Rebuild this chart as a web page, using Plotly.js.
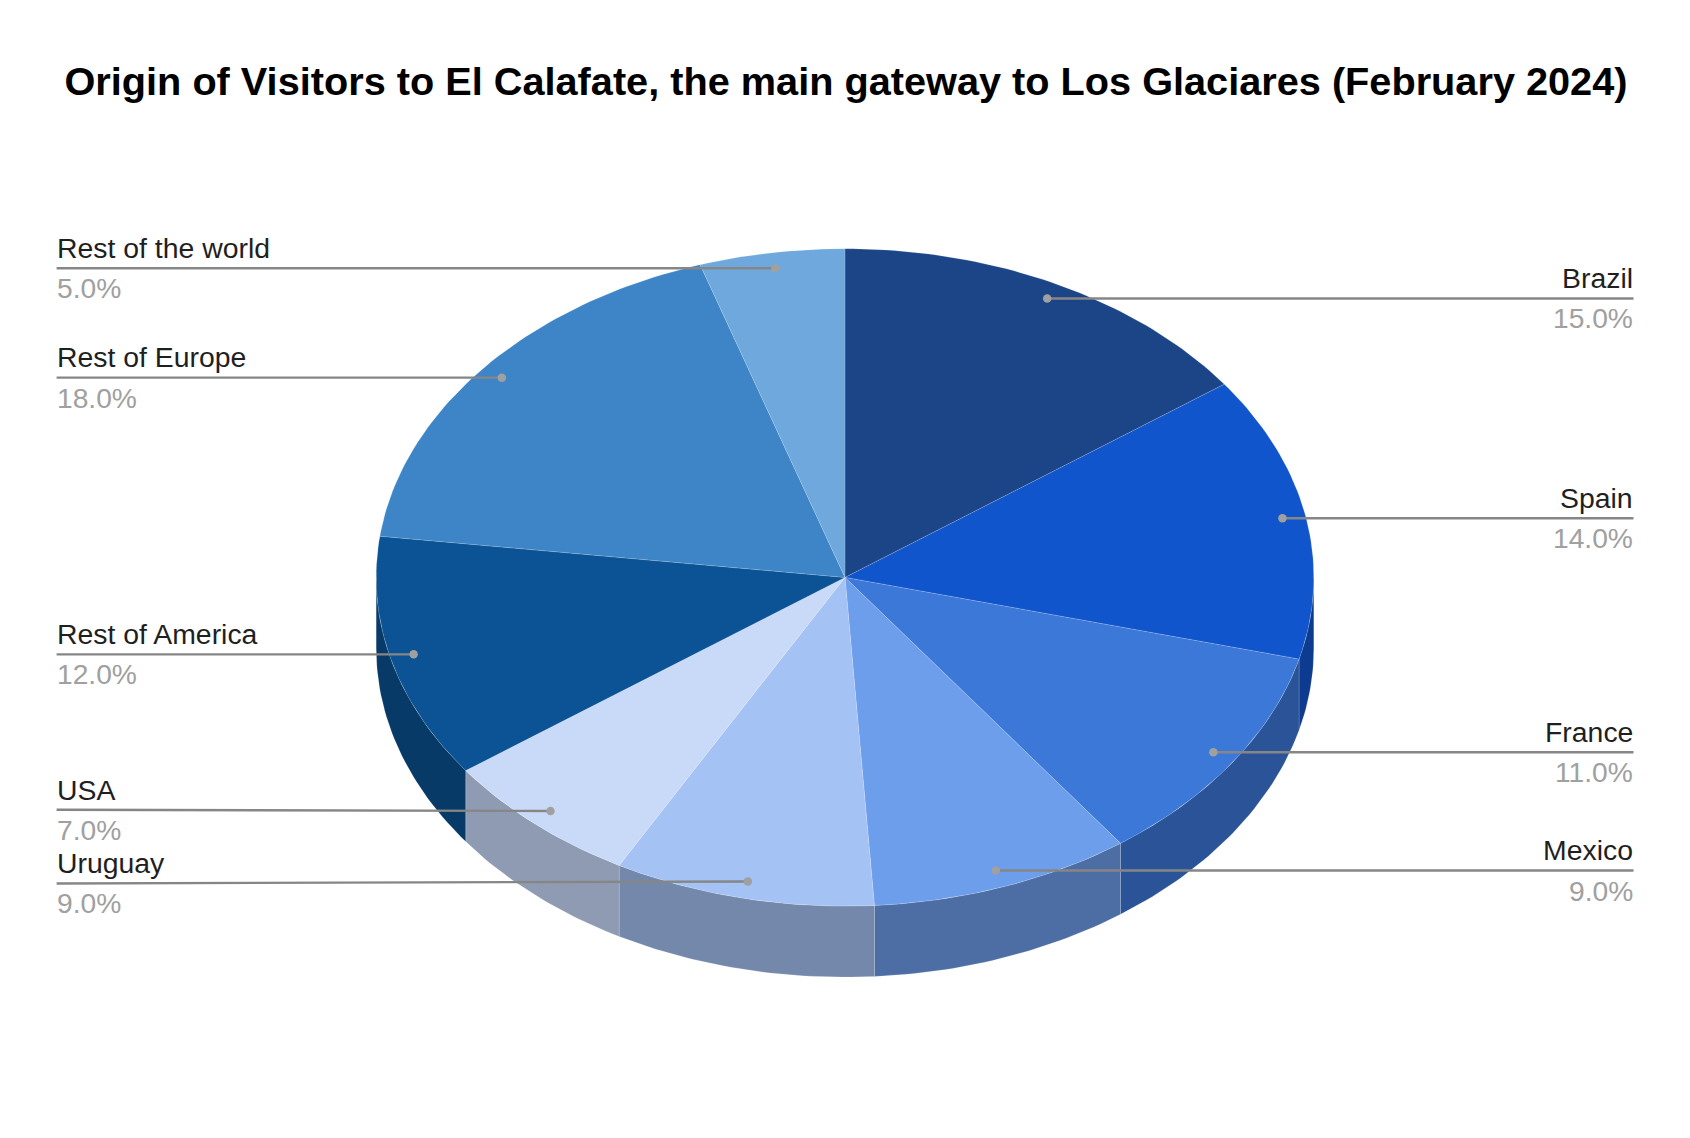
<!DOCTYPE html>
<html>
<head>
<meta charset="utf-8">
<script src="https://cdn.plot.ly/plotly-3.0.1.min.js"></script>
<style>html,body{margin:0;padding:0;background:#fff}</style>
</head>
<body>
<div id="chart" style="width:1690px;height:1138px"></div>
<script>
const categories = ["Brazil","Spain","France","Mexico","Uruguay","USA","Rest of America","Rest of Europe","Rest of the world"];
const shares = [15,14,11,9,9,7,12,18,5];
const topColors = ["#1c4587","#1155cc","#3c78d8","#6d9eeb","#a4c2f4","#c9daf8","#0b5394","#3d85c6","#6fa8dc"];
const sideColors = ["#14305e","#0c3b8f","#2a5497","#4c6ea4","#7388ab","#8e9bb2","#083a68","#2b5d8b","#4e769a"];
const labelSides = ["right","right","right","right","left","left","left","left","left"];
const titleText = "Origin of Visitors to El Calafate, the main gateway to Los Glaciares (February 2024)";

// Geometry of the tilted pie, in the pixel-sized axis units
const cx = 845, cy = 577.4, rx = 468.8, ry = 328.7, depth = 71;
const leftEdge = 56.6, rightEdge = 1633.5;
const leaderNudge = {Uruguay: 2, USA: -1.2};

const total = shares.reduce((a,b)=>a+b,0);
const px = a => cx + rx*Math.sin(a);
const py = a => cy - ry*Math.cos(a);
const rad = d => d*Math.PI/180;
function arc(d0,d1){const n=Math.max(2,Math.ceil(Math.abs(d1-d0)));const out=[];for(let i=0;i<=n;i++){out.push(rad(d0+(d1-d0)*i/n));}return out;}

const traces = [], tops = [], leaders = [], annotations = [];
const edge = {color:"rgba(255,255,255,0.3)",width:0.5};
let start = 0;
categories.forEach((name,i)=>{
  const end = start + shares[i]/total*360;
  // side wall: only the front half (90..270 deg) is visible
  const s0 = Math.max(start,90), s1 = Math.min(end,270);
  if (s1 > s0){
    const a = arc(s0,s1);
    traces.push({type:"scatter",mode:"lines",fill:"toself",fillcolor:sideColors[i],line:edge,hoverinfo:"skip",showlegend:false,
      x:a.map(px).concat(a.slice().reverse().map(px)).concat([px(a[0])]),
      y:a.map(py).concat(a.slice().reverse().map(t=>py(t)+depth)).concat([py(a[0])])});
  }
  const a = arc(start,end);
  tops.push({type:"scatter",mode:"lines",fill:"toself",fillcolor:topColors[i],line:edge,name:name,hoverinfo:"skip",showlegend:false,
    x:[cx].concat(a.map(px)).concat([cx]),
    y:[cy].concat(a.map(py)).concat([cy])});
  // leader line
  const mid = rad((start+end)/2);
  const dx = cx + 0.95*rx*Math.sin(mid), dy = cy - 0.7 - 0.95*ry*Math.cos(mid);
  const left = labelSides[i]==="left";
  const ex = left?leftEdge:rightEdge, ey = dy + (leaderNudge[name]||0);
  const tx = left?ex-1:ex;
  leaders.push({type:"scatter",mode:"lines",line:{color:"#868686",width:2.4},hoverinfo:"skip",showlegend:false,x:[dx,ex],y:[dy,ey]});
  leaders.push({type:"scatter",mode:"markers",marker:{color:"#a0a0a0",size:8.5},hoverinfo:"skip",showlegend:false,x:[dx],y:[dy]});
  annotations.push({xref:"x",yref:"y",x:tx,y:ey-3.2,xanchor:left?"left":"right",yanchor:"bottom",showarrow:false,borderpad:0,
    text:name,font:{family:"Liberation Sans",size:28.4,color:"#1f1f1f"}});
  annotations.push({xref:"x",yref:"y",x:tx,y:ey+3,xanchor:left?"left":"right",yanchor:"top",showarrow:false,borderpad:0,
    text:shares[i].toFixed(1)+"%",font:{family:"Liberation Sans",size:28.2,color:"#a0a0a0"}});
  start = end;
});

const hidden = {visible:false,fixedrange:true};
Plotly.newPlot("chart",traces.concat(tops).concat(leaders),{
  width:1690,height:1138,margin:{l:0,r:0,t:0,b:0},paper_bgcolor:"#fff",plot_bgcolor:"#fff",showlegend:false,
  title:{text:titleText,x:846/1690,xanchor:"center",y:1-81/1138,yanchor:"middle",font:{family:"Liberation Sans",size:39.7,color:"#000",weight:700}},
  xaxis:Object.assign({range:[0,1690]},hidden),
  yaxis:Object.assign({range:[1138,0]},hidden),
  annotations:annotations
},{displayModeBar:false,staticPlot:true});
</script>
</body>
</html>
